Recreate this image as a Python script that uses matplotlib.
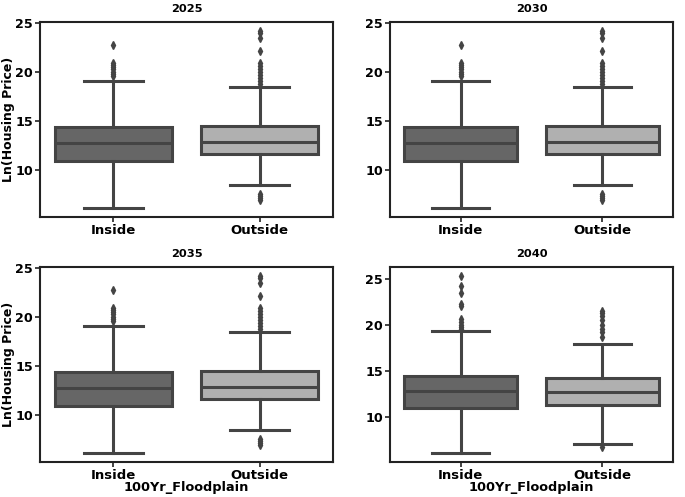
import matplotlib
matplotlib.use("Agg")
import matplotlib.pyplot as plt

years = ["2025", "2030", "2035", "2040"]
categories = ["Inside", "Outside"]

# per year, per category: (whislo, q1, med, q3, whishi)
stats_2025 = [(6.15, 10.9, 12.75, 14.4, 19.1), (8.55, 11.7, 12.9, 14.5, 18.5)]
fliers_2025 = [
    [19.6, 19.8, 20.0, 20.3, 20.5, 20.7, 20.9, 22.8],
    [7.0, 7.2, 7.4, 7.6, 18.8, 19.1, 19.4, 19.7, 20.0, 20.3, 20.6, 20.9, 22.2, 23.5, 24.0, 24.2],
]
stats_2030 = stats_2025
fliers_2030 = fliers_2025
stats_2035 = stats_2025
fliers_2035 = fliers_2025
stats_2040 = [(6.15, 11.0, 12.85, 14.45, 19.3), (7.1, 11.35, 12.75, 14.3, 17.95)]
fliers_2040 = [
    [19.6, 19.8, 20.0, 20.3, 20.6, 22.0, 22.3, 23.5, 24.2, 25.3],
    [6.85, 18.7, 19.2, 19.6, 20.0, 20.5, 21.0, 21.3, 21.5],
]

all_stats = [stats_2025, stats_2030, stats_2035, stats_2040]
all_fliers = [fliers_2025, fliers_2030, fliers_2035, fliers_2040]

box_colors = ["#666666", "#b0b0b0"]
line_color = "#444444"

W, H = 685, 497
fig = plt.figure(figsize=(W / 100, H / 100), dpi=100)

# pixel boxes: left, top, right, bottom
boxes = [(40, 22, 333, 217), (390, 22, 673, 217), (40, 267, 333, 462), (390, 267, 673, 462)]

for i, (yr, st, fl, bx) in enumerate(zip(years, all_stats, all_fliers, boxes)):
    l, t, r, b = bx
    ax = fig.add_axes([l / W, 1 - b / H, (r - l) / W, (b - t) / H])
    bstats = []
    for j, cat in enumerate(categories):
        lo, q1, med, q3, hi = st[j]
        bstats.append(dict(label=cat, whislo=lo, q1=q1, med=med, q3=q3, whishi=hi, fliers=fl[j]))
    res = ax.bxp(bstats, positions=[0, 1], widths=0.8, patch_artist=True,
                 boxprops=dict(edgecolor=line_color, linewidth=2.2),
                 whiskerprops=dict(color=line_color, linewidth=2.2),
                 capprops=dict(color=line_color, linewidth=2.2),
                 medianprops=dict(color=line_color, linewidth=2.2),
                 flierprops=dict(marker="d", markerfacecolor=line_color,
                                 markeredgecolor=line_color, markersize=3.8))
    for patch, c in zip(res["boxes"], box_colors):
        patch.set_facecolor(c)
    # cap width like seaborn (half box width)
    for cap in res["caps"]:
        x = cap.get_xdata()
        cx = (x[0] + x[1]) / 2
        cap.set_xdata([cx - 0.2, cx + 0.2])
    ax.set_xlim(-0.5, 1.5)
    ax.relim()
    ax.autoscale(axis="y")
    ax.set_title(yr, fontsize=8.2, fontweight="bold", pad=7)
    ax.set_xticks([0, 1])
    ax.set_xticklabels(categories, fontsize=9.5, fontweight="bold")
    ax.set_yticks([10, 15, 20, 25])
    for lab in ax.get_yticklabels():
        lab.set_fontsize(9.2)
        lab.set_fontweight("bold")
    for s in ax.spines.values():
        s.set_linewidth(1.5)
        s.set_color("#222222")
    ax.tick_params(width=1.2, length=3.5, color="#222222")
    ax.tick_params(axis="x", pad=1.5)
    ax.tick_params(axis="y", pad=1.5)
    if i % 2 == 0:
        ax.set_ylabel("Ln(Housing Price)", fontsize=9.0, fontweight="bold")
        ax.yaxis.set_label_coords((15 - l) / (r - l), 0.5)
    if i >= 2:
        ax.set_xlabel("100Yr_Floodplain", fontsize=9.3, fontweight="bold", labelpad=-1)

fig.savefig("out.png", dpi=100)
